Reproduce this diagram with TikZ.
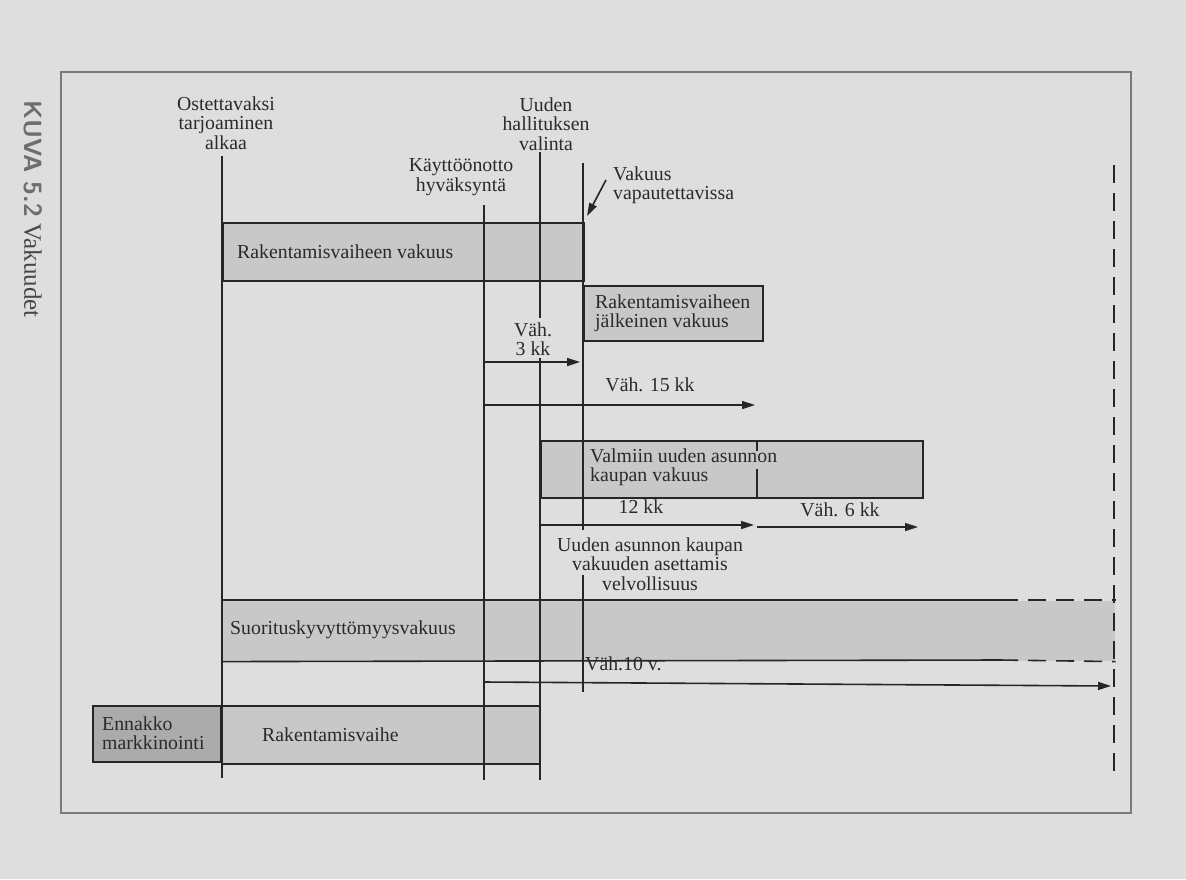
\documentclass[tikz,border=0pt]{standalone}
\usepackage{fontspec}
\setmainfont{Liberation Serif}
\usetikzlibrary{arrows.meta}
\definecolor{pagebg}{HTML}{DEDEDE}
\definecolor{inkc}{HTML}{2B2424}
\definecolor{textc}{HTML}{2E2929}
\definecolor{boxc}{HTML}{C8C8C8}
\definecolor{darkc}{HTML}{ABABAB}
\definecolor{framec}{HTML}{7A7A7A}
\definecolor{captc}{HTML}{6E6E6E}
\definecolor{captd}{HTML}{4A4545}
\tikzset{
  inkline/.style={draw=inkc, line width=1.6pt},
  gbox/.style={inkline, fill=boxc, rectangle, inner sep=0pt, anchor=north west},
  txt/.style={font=\fontsize{19.8}{19.5}\selectfont, text=textc, inner sep=0pt, align=center},
  ltxt/.style={txt, align=left, anchor=west},
  arr/.style={inkline, -{Triangle[length=13pt,width=8pt]}},
  dashline/.style={inkline, dash pattern=on 18pt off 10pt},
}
\begin{document}
\begin{tikzpicture}[x=1pt,y=-1pt]
\fill[pagebg] (0,0) rectangle (1186,879);
\useasboundingbox (0,0) rectangle (1186,879);
\draw[framec, line width=1.2pt] (61,72) rectangle (1131,813);

% caption
\node[rotate=-90, anchor=west, inner sep=0pt, text=captd, font=\fontsize{25}{27}\selectfont] (cap) at (33,100)
  {{\sffamily\bfseries\color{captc}KUVA 5.2} Vakuudet};

% boxes
\node[gbox, minimum width=361pt, minimum height=58pt] (rvak) at (222,222) {};
\node[gbox, minimum width=179pt, minimum height=55pt] (jvak) at (583,285) {};
\node[gbox, minimum width=382pt, minimum height=57pt] (vvak) at (540,440) {};
\node[gbox, draw=none, minimum width=893pt, minimum height=60pt] (svak) at (221,600) {};
\node[gbox, fill=darkc, minimum width=128pt, minimum height=56pt] (enn) at (92,705) {};
\node[gbox, minimum width=318pt, minimum height=58pt] (rv) at (221,705) {};

% suoritus box edges
\coordinate (st1) at (1000,600);
\coordinate (sb1) at (1000,660);
\draw[inkline] (svak.north west) -- (st1);
\draw[inkline] (svak.south west) -- (sb1);
\draw[dashline] (st1) -- (svak.north east);
\draw[dashline] (sb1) -- (svak.south east);

% box texts
\node[ltxt] (trvak) at (237,252) {Rakentamisvaiheen vakuus};
\node[ltxt] (tjvak) at (595,313) {Rakentamisvaiheen\\jälkeinen vakuus};
\node[ltxt] (tvvak) at (590,467) {Valmiin uuden asunnon\\kaupan vakuus};
\node[ltxt] (tsvak) at (230,630) {Suorituskyvyttömyysvakuus};
\node[ltxt] (tenn) at (102,733) {Ennakko\\markkinointi};
\node[ltxt] (trv) at (262,735) {Rakentamisvaihe};

% tick inside Valmiin box
\coordinate (tk1) at (757,440);
\coordinate (tk2) at (757,451);
\coordinate (tk3) at (757,469);
\coordinate (tk4) at (757,497);
\draw[inkline] (tk1) -- (tk2);
\draw[inkline] (tk3) -- (tk4);

% top labels
\node[txt] (lost) at (226,123) {Ostettavaksi\\tarjoaminen\\alkaa};
\node[txt] (luud) at (546,124) {Uuden\\hallituksen\\valinta};
\node[txt] (lkay) at (461,177) {Käyttöönotto\\hyväksyntä};
\node[ltxt] (lvak) at (613,185) {Vakuus\\vapautettavissa};

% vertical lines
\coordinate (v1t) at (222,156);  \coordinate (v1b) at (222,778);
\coordinate (v2t) at (484,205);  \coordinate (v2b) at (484,780);
\coordinate (v3t) at (540,152);  \coordinate (v3m1) at (540,318);
\coordinate (v3m2) at (540,358); \coordinate (v3b) at (540,780);
\coordinate (v4t) at (583,163);  \coordinate (v4m1) at (583,530);
\coordinate (v4m2) at (583,575); \coordinate (v4b) at (583,692);
\coordinate (dt) at (1114,165);  \coordinate (db) at (1114,778);
\draw[inkline] (v1t) -- (v1b);
\draw[inkline] (v2t) -- (v2b);
\draw[inkline] (v3t) -- (v3m1);
\draw[inkline] (v3m2) -- (v3b);
\draw[inkline] (v4t) -- (v4m1);
\draw[inkline] (v4m2) -- (v4b);
\draw[dashline] (dt) -- (db);

% vakuus pointer
\coordinate (pv1) at (606,180);
\coordinate (pv2) at (587,216);
\draw[arr] (pv1) -- (pv2);

% duration arrows
\coordinate (a3s) at (484,362);  \coordinate (a3e) at (580,362);
\coordinate (a15s) at (484,405); \coordinate (a15e) at (755,405);
\coordinate (a12s) at (540,525); \coordinate (a12e) at (754,525);
\coordinate (a6s) at (757,527);  \coordinate (a6e) at (918,527);
\coordinate (a10s) at (484,682); \coordinate (a10e) at (1111,686);
\draw[arr] (a3s) -- (a3e);
\draw[arr] (a15s) -- (a15e);
\draw[arr] (a12s) -- (a12e);
\draw[arr] (a6s) -- (a6e);
\draw[arr] (a10s) -- (a10e);

% duration labels
\node[txt] (l3) at (533,339) {Väh.\\3 kk};
\node[txt] (l15) at (650,385) {Väh. 15 kk};
\node[txt] (l12) at (641,507) {12 kk};
\node[txt] (l6) at (840,510) {Väh. 6 kk};
\node[txt] (lvel) at (650,564) {Uuden asunnon kaupan\\vakuuden asettamis\\velvollisuus};
\node[ltxt] (l10) at (585,664) {Väh.10 v.};
\end{tikzpicture}
\end{document}
